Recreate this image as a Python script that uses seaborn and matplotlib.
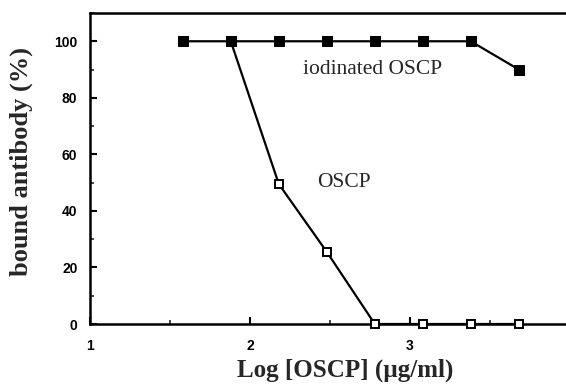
import matplotlib
matplotlib.use("Agg")
import matplotlib.pyplot as plt
import seaborn as sns
import pandas as pd
from matplotlib.ticker import MultipleLocator

sns.set_theme(style="white")
plt.rcParams['font.family'] = ['Liberation Sans', 'DejaVu Sans']

log_conc = [1.58, 1.88, 2.18, 2.48, 2.78, 3.08, 3.38, 3.68]
iodinated = [100, 100, 100, 100, 100, 100, 100, 90]
oscp_x = [1.88, 2.18, 2.48, 2.78, 3.08, 3.38, 3.68]
oscp = [100, 49.5, 25.5, 0, 0, 0, 0]

df_iod = pd.DataFrame({"x": log_conc, "y": iodinated})
df_osc = pd.DataFrame({"x": oscp_x, "y": oscp})

fig = plt.figure(figsize=(5.66, 3.87), dpi=100)
ax = fig.add_axes([90/566, 1-324/387, 480/566, 311/387])

sns.lineplot(data=df_osc, x="x", y="y", ax=ax, color="black", lw=1.6,
             marker="s", markersize=6.2, markerfacecolor="white",
             markeredgecolor="black", markeredgewidth=1.4, clip_on=False, zorder=3)
sns.lineplot(data=df_iod, x="x", y="y", ax=ax, color="black", lw=1.6,
             marker="s", markersize=7, markerfacecolor="black",
             markeredgecolor="black", clip_on=False, zorder=4)

ax.set_xlim(1, 4)
ax.set_ylim(0, 110)
ax.set_xticks([1, 2, 3, 4])
ax.set_yticks([0, 20, 40, 60, 80, 100])
ax.xaxis.set_minor_locator(MultipleLocator(0.5))
ax.yaxis.set_minor_locator(MultipleLocator(10))
ax.tick_params(axis="both", which="major", direction="in", length=5, width=1.5,
               labelsize=10, colors="black", bottom=True, left=True)
ax.tick_params(axis="x", which="major", pad=11)
ax.tick_params(axis="y", which="major", pad=9)
ax.tick_params(axis="both", which="minor", direction="in", length=3, width=1.2,
               bottom=True, left=True)
for lab in ax.get_xticklabels() + ax.get_yticklabels():
    lab.set_fontweight("bold")
for s in ax.spines.values():
    s.set_visible(True)
    s.set_color("black")
    s.set_linewidth(1.8)

serif = ['Liberation Serif', 'DejaVu Serif']
ax.set_xlabel("Log [OSCP] (µg/ml)", fontsize=18, fontweight="bold", family=serif)
ax.set_ylabel("bound antibody (%)", fontsize=19, fontweight="bold", family=serif)
ax.xaxis.set_label_coords(0.531, -0.112)
ax.yaxis.set_label_coords(-0.119, 0.522)

ax.text(2.33, 90, "iodinated OSCP", fontsize=15.5, family=serif, va="center", ha="left")
ax.text(2.42, 50, "OSCP", fontsize=15.5, family=serif, va="center", ha="left")

fig.savefig("out.png", dpi=100)
